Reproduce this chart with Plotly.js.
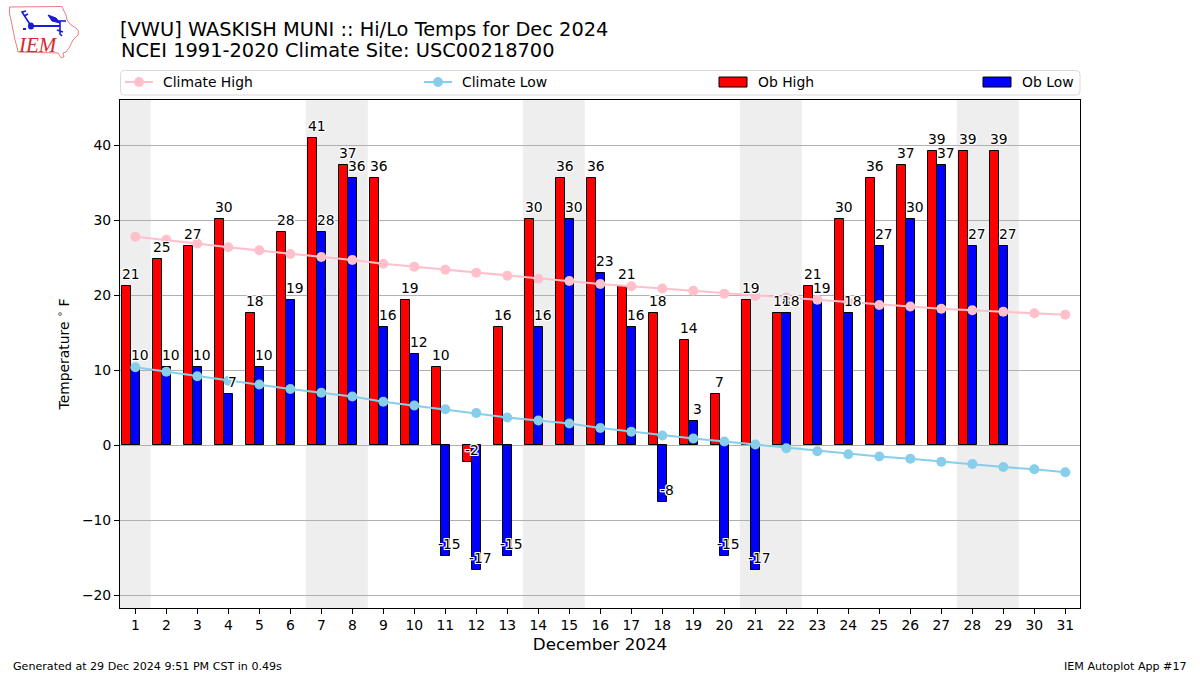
<!DOCTYPE html>
<html>
<head>
<meta charset="utf-8">
<script src="https://cdn.plot.ly/plotly-3.0.1.min.js"></script>
<style>html,body{margin:0;padding:0;background:#fff}</style>
</head>
<body>
<div id="chart" style="width:1200px;height:675px"></div>
<script>
const days = [1,2,3,4,5,6,7,8,9,10,11,12,13,14,15,16,17,18,19,20,21,22,23,24,25,26,27,28,29,30,31];
const obDays = [1,2,3,4,5,6,7,8,9,10,11,12,13,14,15,16,17,18,19,20,21,22,23,24,25,26,27,28,29];
const obHigh = [21.2,24.8,26.6,30.2,17.6,28.4,41,37.4,35.6,19.4,10.4,-2.2,15.8,30.2,35.6,35.6,21.2,17.6,14,6.8,19.4,17.6,21.2,30.2,35.6,37.4,39.2,39.2,39.2];
const obLow = [10.4,10.4,10.4,6.8,10.4,19.4,28.4,35.6,15.8,12.2,-14.8,-16.6,-14.8,15.8,30.2,23,15.8,-7.6,3.2,-14.8,-16.6,17.6,19.4,17.6,26.6,30.2,37.4,26.6,26.6];
const climateHigh = [27.8,27.4,26.9,26.4,26.0,25.5,25.1,24.7,24.2,23.8,23.4,23.0,22.6,22.2,21.9,21.5,21.2,20.9,20.6,20.2,19.9,19.7,19.4,19.1,18.7,18.5,18.2,18.0,17.8,17.6,17.4];
const climateLow = [10.4,9.8,9.2,8.6,8.1,7.5,7.0,6.5,5.8,5.3,4.8,4.3,3.7,3.3,2.9,2.3,1.8,1.3,0.9,0.5,0.1,-0.4,-0.8,-1.2,-1.5,-1.8,-2.2,-2.5,-2.9,-3.2,-3.6];
const weekends = [[0.5,1.5],[6.5,8.5],[13.5,15.5],[20.5,22.5],[27.5,29.5]];
const titleLine1 = "[VWU] WASKISH MUNI :: Hi/Lo Temps for Dec 2024";
const titleLine2 = "NCEI 1991-2020 Climate Site: USC00218700";

const FONT = "DejaVu Sans";
const L = 120, R = 1080, T = 100, B = 608;
const fx = x => (x - L) / (R - L);
const fy = y => (B - y) / (B - T);
const P = pts => pts.map((p, i) => (i ? "L" : "M") + fx(p[0]) + "," + fy(p[1])).join(" ");
const paperShape = (path, o) => Object.assign({type:"path", xref:"paper", yref:"paper", path, layer:"above"}, o);

const traces = [
  {type:"bar", name:"Ob High", x:obDays, y:obHigh, width:0.3, offset:-0.44, legend:"legend3",
   marker:{color:"#ff0000", line:{color:"#000", width:1}}, hoverinfo:"x+y"},
  {type:"bar", name:"Ob Low", x:obDays, y:obLow, width:0.3, offset:-0.14, legend:"legend4",
   marker:{color:"#0000ff", line:{color:"#000", width:1}}, hoverinfo:"x+y"},
  {type:"scatter", mode:"lines+markers", name:"Climate High", x:days, y:climateHigh, legend:"legend",
   line:{color:"#ffc0cb", width:2.1}, marker:{color:"#ffc0cb", size:10}},
  {type:"scatter", mode:"lines+markers", name:"Climate Low", x:days, y:climateLow, legend:"legend2",
   line:{color:"#87ceeb", width:2.1}, marker:{color:"#87ceeb", size:10}}
];

const halo = "1px 0 0 #fff,-1px 0 0 #fff,0 1px 0 #fff,0 -1px 0 #fff,1px 1px 0 #fff,-1px -1px 0 #fff,1px -1px 0 #fff,-1px 1px 0 #fff";
const valueLabel = (d, v, dx) => ({
  xref:"x", yref:"y", x:d + dx, y:v, text:String(Math.round(v)), showarrow:false,
  xanchor:"center", yanchor:"middle", yshift:12, borderpad:0,
  font:{family:FONT, size:13.9, color:"#000", shadow:halo}
});
const freeText = (text, px, py, xanchor, size, extra) => Object.assign({
  xref:"paper", yref:"paper", x:fx(px), y:fy(py), text, showarrow:false,
  xanchor, yanchor:"middle", borderpad:0, font:{family:FONT, size, color:"#000"}
}, extra || {});

const annotations = [
  ...obDays.map((d, i) => valueLabel(d, obHigh[i], -0.15)),
  ...obDays.map((d, i) => valueLabel(d, obLow[i], 0.15)),
  freeText(titleLine2, 120, 51, "left", 19.4),
  freeText("Generated at 29 Dec 2024 9:51 PM CST in 0.49s", 11.5, 666, "left", 11.1),
  freeText("IEM Autoplot App #17", 1188, 666, "right", 11.1),
  freeText("<i>IEM</i>", 37.5, 45, "center", 21, {font:{family:"Liberation Serif", size:21, color:"#d8282f"}})
];

const BLUE = "#1a1ad6";
const shapes = [
  ...weekends.map(w => ({type:"rect", xref:"x", yref:"paper", x0:w[0], x1:w[1], y0:0, y1:1,
    fillcolor:"#eeeeee", line:{width:0}, layer:"below"})),
  // legend frame (rounded)
  paperShape("M"+fx(124)+","+fy(70.5)+" L"+fx(1076)+","+fy(70.5)+" Q"+fx(1080)+","+fy(70.5)+" "+fx(1080)+","+fy(74.5)+
    " L"+fx(1080)+","+fy(91)+" Q"+fx(1080)+","+fy(95)+" "+fx(1076)+","+fy(95)+
    " L"+fx(124)+","+fy(95)+" Q"+fx(120.5)+","+fy(95)+" "+fx(120.5)+","+fy(91)+
    " L"+fx(120.5)+","+fy(74.5)+" Q"+fx(120.5)+","+fy(70.5)+" "+fx(124)+","+fy(70.5)+" Z",
    {line:{color:"#d9d9d9", width:1}, layer:"below"}),
  // logo: Iowa outline
  paperShape(P([[9.5,7],[62,6.5],[64,11],[66,15],[67,20],[71,25],[76,28],[78.5,31],[78,35],[73,40],[71,44],[69,48],[66,52],[63,53],[64,57],[61,57.5],[58,53],[18,52],[17,47],[15,40],[13,30],[11,20],[9.5,14]])+" Z",
    {line:{color:"#e58080", width:1}}),
  // logo: blue station glyph
  paperShape(P([[31,26],[60,26]]), {line:{color:BLUE, width:2}}),
  paperShape(P([[31,26],[22,12],[26,11]]), {line:{color:BLUE, width:1.6}}),
  paperShape(P([[24,16],[28,14]]), {line:{color:BLUE, width:1.6}}),
  paperShape(P([[48,15],[56,18],[60,23],[52,21]])+" Z", {line:{color:BLUE, width:1}, fillcolor:BLUE}),
  paperShape(P([[55,21],[66,21]]), {line:{color:BLUE, width:1.6}}),
  paperShape(P([[60,21],[60,34],[62,36]]), {line:{color:BLUE, width:1.6}}),
  paperShape(P([[57,30],[63,32]]), {line:{color:BLUE, width:1.6}}),
  paperShape(P([[23,29],[26,29]]), {line:{color:BLUE, width:2}}),
  {type:"circle", xref:"paper", yref:"paper", x0:fx(28), x1:fx(34), y0:fy(29.5), y1:fy(22.5),
    fillcolor:BLUE, line:{width:0}, layer:"above"}
];

const legendStyle = px => ({
  x:fx(px), y:fy(82.5), xanchor:"left", yanchor:"middle", orientation:"h",
  bgcolor:"rgba(0,0,0,0)", borderwidth:0, font:{family:FONT, size:13.9, color:"#000"},
  itemwidth:38, itemclick:false, itemdoubleclick:false
});

const layout = {
  width:1200, height:675, paper_bgcolor:"#fff", plot_bgcolor:"#fff",
  margin:{l:L, r:1200-R, t:T, b:675-B, pad:0},
  font:{family:FONT, size:13.9, color:"#000"},
  title:{text:titleLine1, x:fx(120), xref:"paper", xanchor:"left", y:1-29/675, yref:"container", yanchor:"middle",
    font:{family:FONT, size:19.4, color:"#000"}},
  barmode:"overlay", bargap:0, hovermode:"closest",
  showlegend:true,
  legend:legendStyle(115), legend2:legendStyle(414), legend3:legendStyle(710), legend4:legendStyle(974),
  xaxis:{range:[0.506,31.474], tickmode:"array", tickvals:days, ticktext:days.map(String),
    ticks:"outside", ticklen:5, tickwidth:1, tickcolor:"#000", showgrid:false, zeroline:false,
    showline:true, mirror:true, linecolor:"#000", linewidth:1, tickangle:0, ticklabelstandoff:-1,
    tickfont:{family:FONT, size:13.9, color:"#000"},
    title:{text:"December 2024", font:{family:FONT, size:16.7, color:"#000"}, standoff:6}, automargin:false},
  yaxis:{range:[-21.69,46.04], tickmode:"array", tickvals:[-20,-10,0,10,20,30,40],
    ticks:"outside", ticklen:5, tickwidth:1, tickcolor:"#000",
    showgrid:true, gridcolor:"#b0b0b0", gridwidth:1, zeroline:true, zerolinecolor:"#b0b0b0", zerolinewidth:1,
    showline:true, mirror:true, linecolor:"#000", linewidth:1,
    tickfont:{family:FONT, size:13.9, color:"#000"},
    title:{text:"Temperature <sup>∘</sup> F", font:{family:FONT, size:13.9, color:"#000"}, standoff:9}, automargin:false},
  shapes, annotations
};

// legend keys: wide bar patches and a shorter line, as in the reference
function tuneLegendKeys() {
  document.querySelectorAll(".infolayer path").forEach(p => {
    const d = p.getAttribute("d");
    if (d === "M6,6H-6V-6H6Z") p.setAttribute("d", "M13,5H-15V-5H13Z");
    else if (d === "M5,0h38") p.setAttribute("d", "M10,0h28");
  });
}
const gd = document.getElementById("chart");
Plotly.newPlot(gd, traces, layout, {displayModeBar:false, responsive:false}).then(() => {
  tuneLegendKeys();
  gd.on("plotly_afterplot", tuneLegendKeys);
});
</script>
</body>
</html>
